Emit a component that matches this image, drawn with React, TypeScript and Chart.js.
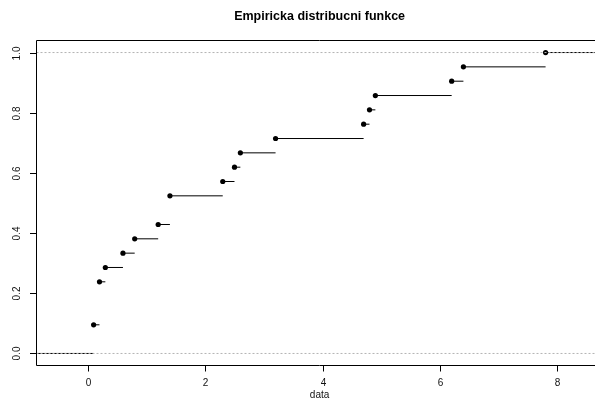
import React, { useEffect, useRef } from "react";
import { Chart, registerables } from "chart.js";

Chart.register(...registerables);

// ECDF data (jump points and cumulative proportions, n = 21)
const knots = [0.1, 0.2, 0.3, 0.6, 0.8, 1.2, 1.4, 2.3, 2.5, 2.6, 3.2, 4.7, 4.8, 4.9, 6.2, 6.4, 7.8];
const ecdfValues = [
  2 / 21, 5 / 21, 6 / 21, 7 / 21, 8 / 21, 9 / 21, 11 / 21, 12 / 21, 13 / 21,
  14 / 21, 15 / 21, 16 / 21, 17 / 21, 18 / 21, 19 / 21, 20 / 21, 21 / 21,
];
const xTicks = [0, 2, 4, 6, 8];
const xTickLabels = ["0", "2", "4", "6", "8"];
const yTicks = [0, 0.2, 0.4, 0.6, 0.8, 1.0];
const yTickLabels = ["0.0", "0.2", "0.4", "0.6", "0.8", "1.0"];
const refLines = [0, 1];
const titleText = "Empiricka distribucni funkce";
const xAxisTitle = "data";
const X_MIN = -0.873;
const X_MAX = 8.773;
const Y_MIN = -0.04;
const Y_MAX = 1.04;

const FONT = '"Liberation Sans", Arial, Helvetica, sans-serif';

const axesPlugin = {
  id: "rAxes",
  afterDraw(chart: any) {
    const { ctx, chartArea, scales } = chart;
    const xs = scales.x;
    const ys = scales.y;
    ctx.save();
    // box (right side lies beyond visible area)
    ctx.strokeStyle = "#000";
    ctx.lineWidth = 1;
    ctx.beginPath();
    ctx.rect(chartArea.left, chartArea.top, chartArea.right - chartArea.left, chartArea.bottom - chartArea.top);
    ctx.stroke();

    // x ticks
    ctx.fillStyle = "#111";
    ctx.font = `10px ${FONT}`;
    ctx.textAlign = "center";
    ctx.textBaseline = "middle";
    xTicks.forEach((v, i) => {
      const px = Math.round(xs.getPixelForValue(v)) + 0.5;
      ctx.beginPath();
      ctx.moveTo(px, chartArea.bottom);
      ctx.lineTo(px, chartArea.bottom + 6);
      ctx.stroke();
      ctx.fillText(xTickLabels[i], px, 383);
    });
    // x axis title
    ctx.fillText(xAxisTitle, (chartArea.left + chartArea.right) / 2, 395.5);

    // y ticks
    yTicks.forEach((v, i) => {
      const py = Math.round(ys.getPixelForValue(v)) + 0.5;
      ctx.beginPath();
      ctx.moveTo(chartArea.left, py);
      ctx.lineTo(chartArea.left - 6.5, py);
      ctx.stroke();
      ctx.save();
      ctx.translate(17, py);
      ctx.rotate(-Math.PI / 2);
      ctx.fillText(yTickLabels[i], 0, 0);
      ctx.restore();
    });

    // title
    ctx.fillStyle = "#000";
    ctx.font = `bold 12.5px ${FONT}`;
    ctx.fillText(titleText, (chartArea.left + chartArea.right) / 2, 17);
    ctx.restore();
  },
};

export default function App() {
  const canvasRef = useRef<HTMLCanvasElement | null>(null);

  useEffect(() => {
    const canvas = canvasRef.current;
    if (!canvas) return;

    const segments: any[] = [];
    // left segment from plot edge to first jump at 0
    segments.push({
      data: [
        { x: X_MIN, y: 0 },
        { x: knots[0], y: 0 },
      ],
    });
    for (let i = 0; i < knots.length; i++) {
      const xEnd = i < knots.length - 1 ? knots[i + 1] : X_MAX;
      segments.push({
        data: [
          { x: knots[i], y: ecdfValues[i] },
          { x: xEnd, y: ecdfValues[i] },
        ],
      });
    }

    const datasets: any[] = [];
    refLines.forEach((v) => {
      datasets.push({
        type: "line",
        data: [
          { x: X_MIN, y: v },
          { x: X_MAX, y: v },
        ],
        borderColor: "#b3b3b3",
        borderWidth: 1,
        borderDash: [2, 2],
        pointRadius: 0,
        order: 0,
      });
    });
    datasets.push({
      type: "scatter",
      data: knots.map((x, i) => ({ x, y: ecdfValues[i] })),
      backgroundColor: "#000",
      borderColor: "#000",
      borderWidth: 0,
      pointRadius: 2.6,
      order: 1,
    });
    segments.forEach((s) => {
      datasets.push({
        type: "line",
        data: s.data,
        borderColor: "#000",
        borderWidth: 1,
        pointRadius: 0,
        order: 2,
      });
    });

    const chart = new Chart(canvas, {
      type: "scatter",
      data: { datasets },
      options: {
        animation: false,
        responsive: false,
        devicePixelRatio: 1,
        layout: {
          padding: { left: 36.5, right: 610 - 602.7, top: 40.5, bottom: 408 - 365.5 },
        },
        plugins: {
          legend: { display: false },
          tooltip: { enabled: false },
          title: { display: false },
        },
        scales: {
          x: { type: "linear", min: X_MIN, max: X_MAX, display: false },
          y: { type: "linear", min: Y_MIN, max: Y_MAX, display: false },
        },
      },
      plugins: [axesPlugin],
    });

    return () => chart.destroy();
  }, []);

  return (
    <div
      style={{
        position: "absolute",
        left: 0,
        top: 0,
        width: 595,
        height: 408,
        overflow: "hidden",
        background: "#fff",
      }}
    >
      <canvas ref={canvasRef} width={610} height={408} style={{ width: 610, height: 408, display: "block" }} />
    </div>
  );
}
